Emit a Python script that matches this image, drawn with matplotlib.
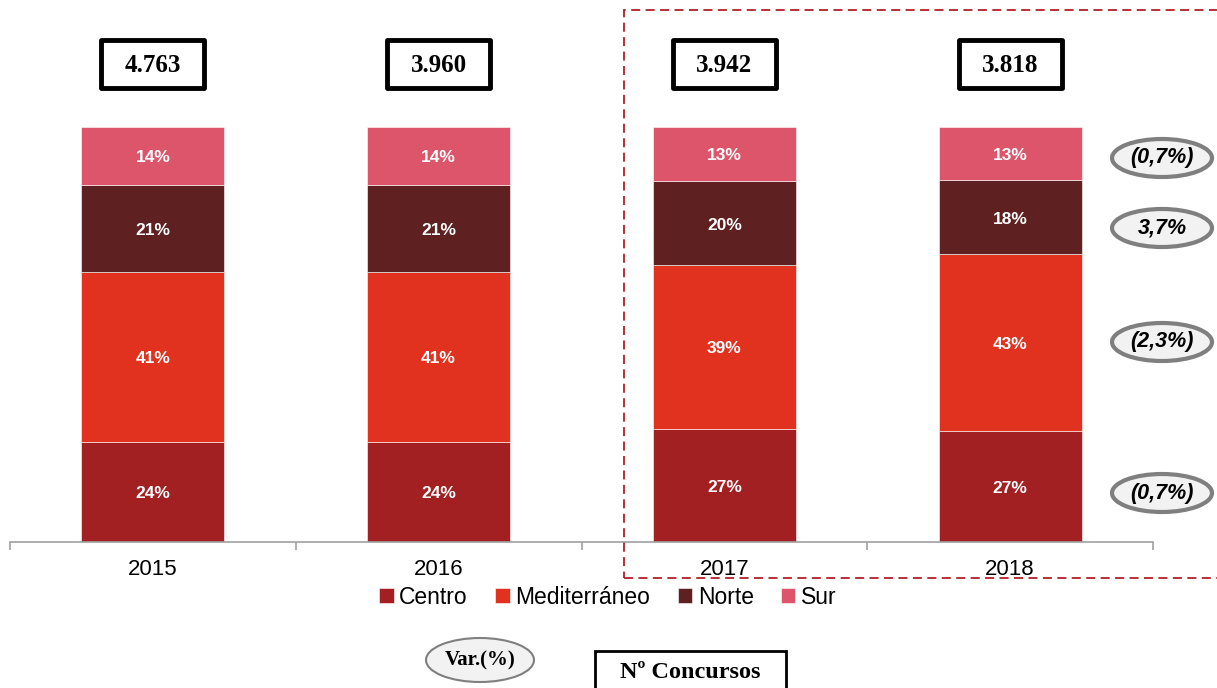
import matplotlib.pyplot as plt
import numpy as np
from matplotlib.patches import Rectangle, Ellipse
from matplotlib.transforms import blended_transform_factory

years = ['2015', '2016', '2017', '2018']
regions = ['Centro', 'Mediterráneo', 'Norte', 'Sur']
centro = [24, 24, 27, 27]
mediterraneo = [41, 41, 39, 43]
norte = [21, 21, 20, 18]
sur = [14, 14, 13, 13]
totals = ['4.763', '3.960', '3.942', '3.818']
# variation 2018 vs 2017, top to bottom: Sur, Norte, Mediterráneo, Centro
var_labels = ['(0,7%)', '3,7%', '(2,3%)', '(0,7%)']

colors = ['#A21F22', '#E0321F', '#5E2020', '#DC556B']
sans = ['Liberation Sans', 'DejaVu Sans']
serif = ['Liberation Serif', 'DejaVu Serif']

W, H = 1217, 688
fig = plt.figure(figsize=(W / 100, H / 100), dpi=100)
ax = fig.add_axes([10 / W, 1 - 542 / H, 1143 / W, 415 / H])

x = np.arange(len(years))
series = np.array([centro, mediterraneo, norte, sur], dtype=float)
shares = series / series.sum(axis=0)
bottom = np.zeros(len(years))
for i, name in enumerate(regions):
    ax.bar(x, shares[i], 0.5, bottom=bottom, color=colors[i], label=name,
           edgecolor='white', linewidth=0.4)
    for xi, b, h, v in zip(x, bottom, shares[i], series[i]):
        ax.text(xi, b + h / 2 - 0.004, f'{int(v)}%', ha='center', va='center',
                color='white', fontsize=12.5, fontweight='bold', family=sans)
    bottom += shares[i]

ax.set_xlim(-0.5, 3.5)
ax.set_ylim(0, 1)
for s in ['left', 'right', 'top']:
    ax.spines[s].set_visible(False)
ax.spines['bottom'].set_color('#A0A0A0')
ax.spines['bottom'].set_linewidth(1.2)
ax.set_yticks([])
ax.set_xticks(np.arange(-0.5, 4, 1))
ax.set_xticklabels([])
ax.tick_params(axis='x', which='major', length=6, color='#A0A0A0', width=1.2)
ax.set_xticks(x, minor=True)
ax.set_xticklabels(years, minor=True, fontsize=16, family=sans)
ax.tick_params(axis='x', which='minor', length=0, pad=12)

# total number of tenders above each bar
tr = blended_transform_factory(ax.transData, fig.transFigure)
box_w = 103 / 286
for xi, t in zip(x, totals):
    ax.add_patch(Rectangle((xi - box_w / 2, 1 - 88 / H), box_w, 48 / H,
                           transform=tr, fc='white', ec='black', lw=3.5,
                           joinstyle='round', clip_on=False))
    ax.text(xi, 1 - 65 / H, t, transform=tr, ha='center', va='center',
            fontsize=18, fontweight='bold', family=serif)

# dashed frame around the last two years
fig.patches.append(Rectangle((624 / W, 1 - 578 / H), 620 / W, 568 / H,
                             transform=fig.transFigure, fill=False,
                             ec='#B22025', lw=1.3, ls=(0, (5, 3))))

# variation ellipses on the right
for lbl, yp in zip(var_labels, [158, 228, 342, 493]):
    fig.patches.append(Ellipse((1162 / W, 1 - yp / H), 100 / W, 38 / H,
                               transform=fig.transFigure, fc='#F2F2F2',
                               ec='#7F7F7F', lw=3))
    fig.text(1162 / W, 1 - yp / H, lbl, ha='center', va='center',
             fontsize=15.5, fontweight='bold', style='italic', family=sans)

fig.legend(loc='center', bbox_to_anchor=(608 / W, 1 - 597 / H), ncol=4,
           frameon=False, prop={'family': sans, 'size': 16.5},
           handlelength=0.62, handleheight=0.62, handletextpad=0.25,
           columnspacing=1.2)

# key at the bottom
fig.patches.append(Ellipse((480 / W, 1 - 660 / H), 108 / W, 44 / H,
                           transform=fig.transFigure, fc='#F2F2F2',
                           ec='#7F7F7F', lw=1.5))
fig.text(480 / W, 1 - 660 / H, 'Var.(%)', ha='center', va='center',
         fontsize=15, fontweight='bold', family=serif)
fig.patches.append(Rectangle((595 / W, -10 / H), 191 / W, (688 - 651 + 10) / H,
                             transform=fig.transFigure, fill=False,
                             ec='black', lw=2))
fig.text(690 / W, 1 - 672 / H, 'Nº Concursos', ha='center', va='center',
         fontsize=17.5, fontweight='bold', family=serif)

fig.savefig('out.png', dpi=100)
